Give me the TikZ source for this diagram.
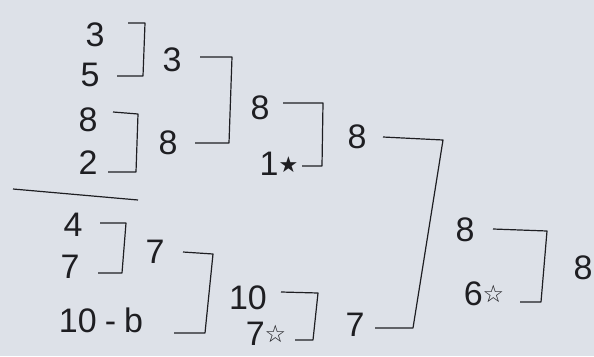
\documentclass[tikz,border=0pt]{standalone}
\usepackage{fontspec}
\setmainfont{Liberation Sans}
\newfontfamily\symfont{DejaVu Sans}
\definecolor{paper}{HTML}{DDE1E8}
\definecolor{ink}{HTML}{1E1E22}
\newcommand{\fstar}{\raisebox{3pt}{\symfont\fontsize{22}{22}\selectfont ★}}
\newcommand{\ostar}{\raisebox{3pt}{\symfont\fontsize{24}{24}\selectfont ☆}}
\begin{document}
\begin{tikzpicture}[x=1pt,y=-1pt,
  num/.style={font=\fontsize{34}{34}\selectfont, text=ink, inner sep=0pt},
  wire/.style={draw=ink, line width=1.2pt, line join=round}]
\fill[paper] (0,0) rectangle (594,356);
\useasboundingbox (0,0) rectangle (594,356);
% entrants and winners
\node[num] (a3) at (95,35) {3};
\node[num] (a5) at (90,75) {5};
\node[num] (a8) at (88,120) {8};
\node[num] (a2) at (88,163) {2};
\node[num] (w3) at (172,60) {3};
\node[num] (w8) at (168,143) {8};
\node[num] (s8) at (260,108) {8};
\node[num] (one) at (279,164) {1\fstar};
\node[num] (f8) at (357,137) {8};
\node[num] (b4) at (73,225) {4};
\node[num] (b7) at (70,267) {7};
\node[num] (w7) at (155,252) {7};
\node[num] (b10) at (101,320) {10\hspace{8pt}-\hspace{8pt}b};
\node[num] (s10) at (248,298) {10};
\node[num] (s7) at (266,334) {7\ostar};
\node[num] (f7) at (355,325) {7};
\node[num] (g8) at (465,230) {8};
\node[num] (g6) at (484,294) {6\ostar};
\node[num] (champ) at (583,268) {8};
% bracket corners
\coordinate (k1a) at (128,23); \coordinate (k1b) at (145,23); \coordinate (k1c) at (143,76); \coordinate (k1d) at (117,76);
\coordinate (k2a) at (113,112); \coordinate (k2b) at (138,114); \coordinate (k2c) at (136,172); \coordinate (k2d) at (108,172);
\coordinate (k3a) at (200,57); \coordinate (k3b) at (232,57); \coordinate (k3c) at (229,143); \coordinate (k3d) at (195,143);
\coordinate (k4a) at (283,103); \coordinate (k4b) at (323,103); \coordinate (k4c) at (322,166); \coordinate (k4d) at (302,166);
\coordinate (k5a) at (100,223); \coordinate (k5b) at (126,223); \coordinate (k5c) at (122,273); \coordinate (k5d) at (98,273);
\coordinate (k6a) at (183,252); \coordinate (k6b) at (213,254); \coordinate (k6c) at (205,333); \coordinate (k6d) at (174,333);
\coordinate (k7a) at (281,292); \coordinate (k7b) at (318,293); \coordinate (k7c) at (313,340); \coordinate (k7d) at (295,340);
\coordinate (k8a) at (383,137); \coordinate (k8b) at (443,140); \coordinate (k8c) at (413,328); \coordinate (k8d) at (375,328);
\coordinate (k9a) at (493,229); \coordinate (k9b) at (547,231); \coordinate (k9c) at (541,302); \coordinate (k9d) at (520,302);
\coordinate (sepa) at (13,189); \coordinate (sepb) at (138,200);
\foreach \k in {k1,k2,k3,k4,k5,k6,k7,k8,k9}
  \draw[wire] (\k a) -- (\k b) -- (\k c) -- (\k d);
\draw[wire] (sepa) -- (sepb);
\end{tikzpicture}
\end{document}
